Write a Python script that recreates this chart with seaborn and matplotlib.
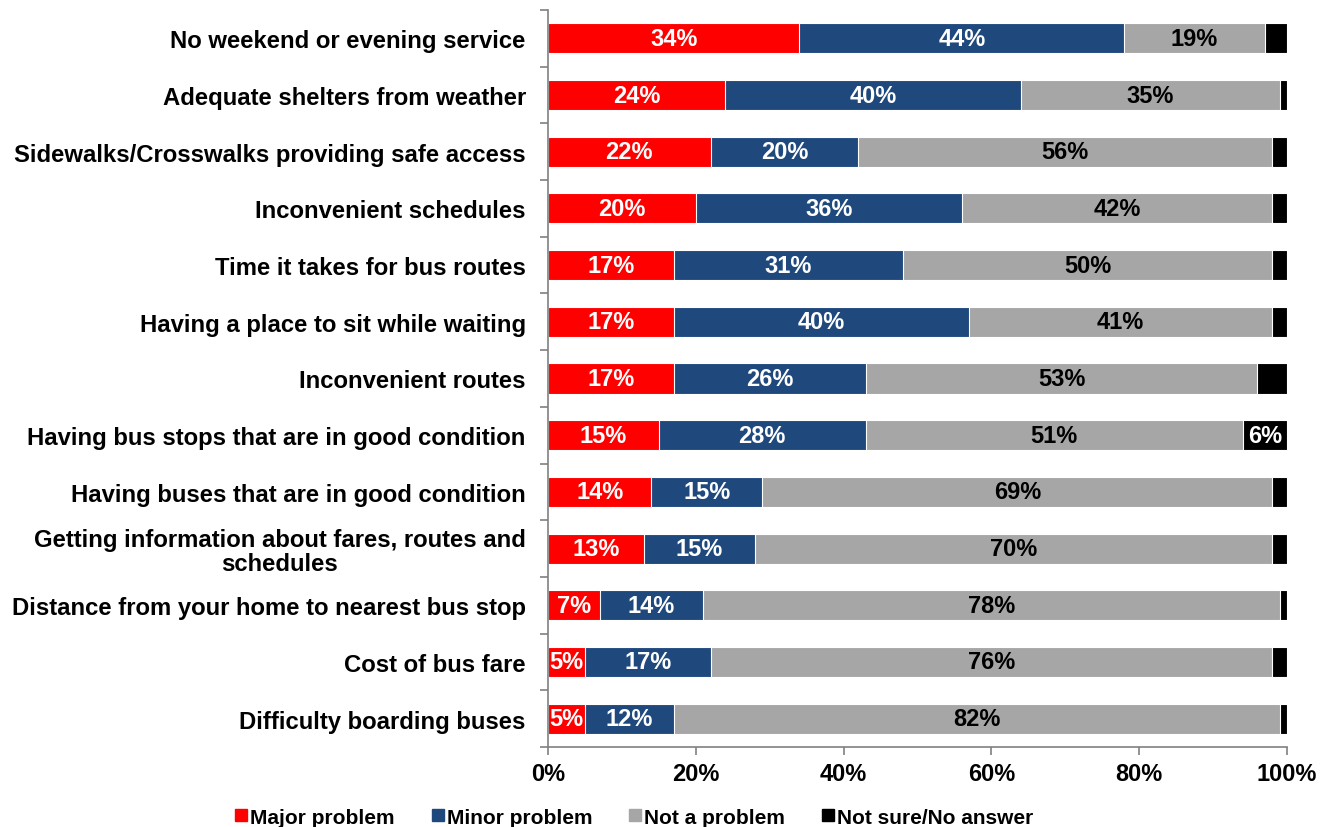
import numpy as np
import pandas as pd
import matplotlib
matplotlib.use("Agg")
import matplotlib.pyplot as plt
from matplotlib.lines import Line2D
from matplotlib.ticker import FixedLocator, PercentFormatter
import seaborn as sns

# survey items, top to bottom
items = [
    "No weekend or evening service",
    "Adequate shelters from weather",
    "Sidewalks/Crosswalks providing safe access",
    "Inconvenient schedules",
    "Time it takes for bus routes",
    "Having a place to sit while waiting",
    "Inconvenient routes",
    "Having bus stops that are in good condition",
    "Having buses that are in good condition",
    "Getting information about fares, routes and\nschedules",
    "Distance from your home to nearest bus stop",
    "Cost of bus fare",
    "Difficulty boarding buses",
]
major = [34, 24, 22, 20, 17, 17, 17, 15, 14, 13, 7, 5, 5]
minor = [44, 40, 20, 36, 31, 40, 26, 28, 15, 15, 14, 17, 12]
not_problem = [19, 35, 56, 42, 50, 41, 53, 51, 69, 70, 78, 76, 82]
not_sure = [3, 1, 2, 2, 2, 2, 4, 6, 2, 2, 1, 2, 1]

series_names = ["Major problem", "Minor problem", "Not a problem", "Not sure/No answer"]
colors = ["#FF0000", "#1F497D", "#A6A6A6", "#000000"]
text_colors = ["white", "white", "black", "white"]
show_min = [0, 0, 0, 5]  # black segments only labelled when wide enough

df = pd.DataFrame({"Item": items, "Major problem": major, "Minor problem": minor,
                   "Not a problem": not_problem, "Not sure/No answer": not_sure})
cum = df[series_names].cumsum(axis=1)

plt.rcParams["font.family"] = ["Liberation Sans", "DejaVu Sans"]
plt.rcParams["font.weight"] = "bold"

fig = plt.figure(figsize=(13.34, 8.28), dpi=100)
ax = fig.add_axes([548 / 1334, 1 - 748 / 828, (1287 - 548) / 1334, (748 - 11) / 828])

# stacked bars: draw cumulative totals from the widest down
for name, col in zip(series_names[::-1], colors[::-1]):
    sns.barplot(x=cum[name], y=df["Item"], orient="h", color=col, width=0.53,
                edgecolor="white", linewidth=0.8, ax=ax, saturation=1)

# segment labels
for i in range(len(items)):
    left = 0
    for k, name in enumerate(series_names):
        v = df[name].iloc[i]
        if v > show_min[k]:
            ax.text(left + v / 2, i, f"{v}%", ha="center", va="center",
                    color=text_colors[k], fontsize=17, fontweight="bold")
        left += v

ax.set_xlim(0, 100)
ax.set_ylim(len(items) - 0.5, -0.5)
ax.xaxis.set_major_locator(FixedLocator([0, 20, 40, 60, 80, 100]))
ax.xaxis.set_major_formatter(PercentFormatter(decimals=0))
ax.set_xlabel("")
ax.set_ylabel("")

# category ticks sit between bars
ax.yaxis.set_minor_locator(FixedLocator(np.arange(-0.5, len(items), 1.0)))
ax.tick_params(axis="y", which="major", length=0, labelsize=17.2, pad=16)
ax.tick_params(axis="y", which="minor", length=6, color="#808080", width=1.2)
ax.tick_params(axis="x", which="major", length=6, color="#808080", width=1.2,
               labelsize=17, pad=5)
for lab in ax.get_yticklabels():
    lab.set_fontweight("bold")
    lab.set_multialignment("center")
    lab.set_linespacing(1.05)
for lab in ax.get_xticklabels():
    lab.set_fontweight("bold")

for s in ["top", "right"]:
    ax.spines[s].set_visible(False)
for s in ["left", "bottom"]:
    ax.spines[s].set_color("#808080")
    ax.spines[s].set_linewidth(1.2)

handles = [Line2D([0], [0], marker="s", linestyle="", markersize=8,
                  markerfacecolor=c, markeredgecolor=c) for c in colors]
fig.legend(handles, series_names, loc="center", bbox_to_anchor=(0.475, 0.012),
           ncol=4, frameon=False, handlelength=0.7, handletextpad=0.1,
           columnspacing=1.7, borderpad=0, prop={"weight": "bold", "size": 15})

fig.savefig("out.png", dpi=100)
